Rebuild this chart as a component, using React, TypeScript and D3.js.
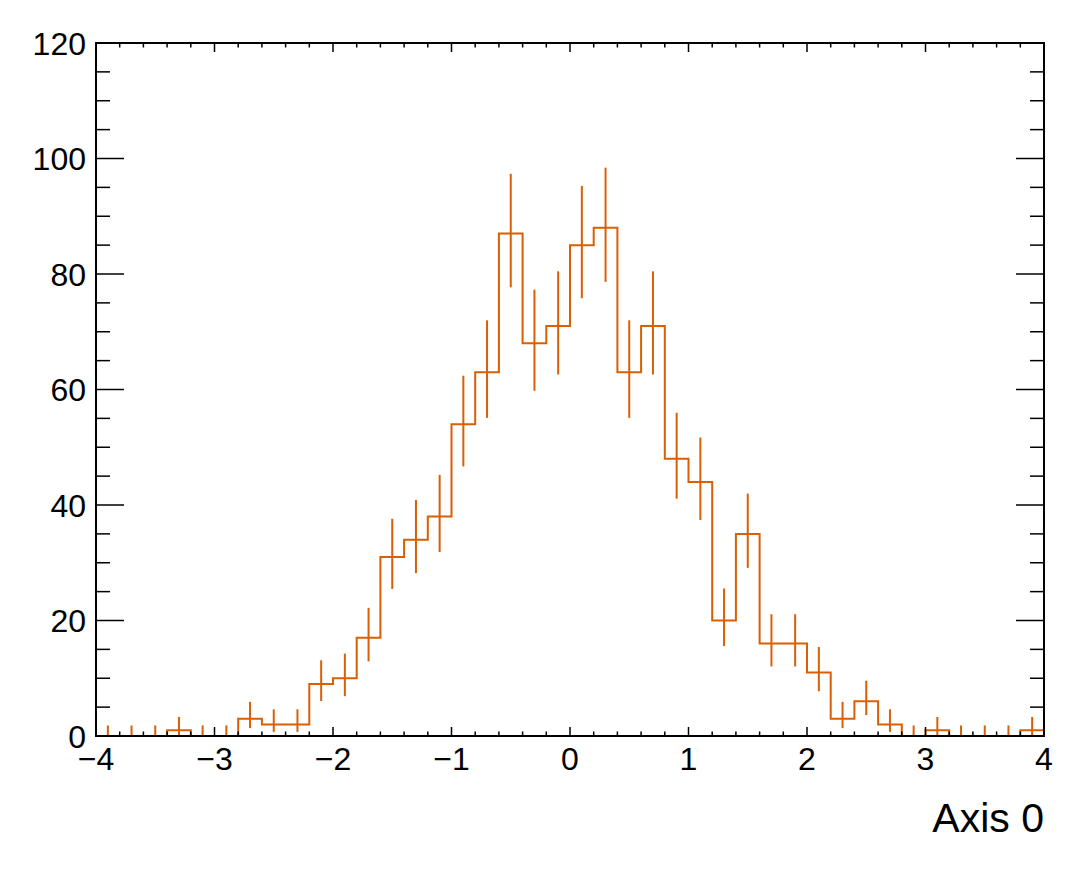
import React, { useEffect, useRef } from 'react';
import * as d3 from 'd3';

// bin lower edges, width 0.2, from -4 to 4
const binEdges: number[] = d3.range(40).map(i => -4 + i * 0.2);
const counts: number[] = [
  0, 0, 0, 1, 0, 0, 3, 2, 2, 9,
  10, 17, 31, 34, 38, 54, 63, 87, 68, 71,
  85, 88, 63, 71, 48, 44, 20, 35, 16, 16,
  11, 3, 6, 2, 0, 1, 0, 0, 0, 1,
];
const xTicks: number[] = [-4, -3, -2, -1, 0, 1, 2, 3, 4];
const yTicks: number[] = [0, 20, 40, 60, 80, 100, 120];
const axisTitle = 'Axis 0';

// approximate Poisson (Garwood) 68% interval, as drawn by ROOT
const poissonLow = (n: number) => (n === 0 ? 0 : n * Math.pow(1 - 1 / (9 * n) - 1 / (3 * Math.sqrt(n)), 3));
const poissonHigh = (n: number) => (n + 1) * Math.pow(1 - 1 / (9 * (n + 1)) + 1 / (3 * Math.sqrt(n + 1)), 3);

const App: React.FC = () => {
  const svgRef = useRef<SVGSVGElement>(null);

  useEffect(() => {
    if (!svgRef.current) return;
    const svg = d3.select(svgRef.current);
    svg.selectAll('*').remove();

    const width = 1084;
    const height = 871;
    const margin = { top: 43, right: 40, bottom: 135, left: 96 };
    const color = '#d95f02';
    const font = '"Liberation Sans", Arial, Helvetica, sans-serif';

    const x = d3.scaleLinear().domain([-4, 4]).range([margin.left, width - margin.right]);
    const y = d3.scaleLinear().domain([0, 120]).range([height - margin.bottom, margin.top]);

    // histogram outline
    const pts: [number, number][] = [[-4, 0]];
    binEdges.forEach((e, i) => pts.push([e, counts[i]]));
    pts.push([4, counts[counts.length - 1]]);
    pts.push([4, 0]);
    const line = d3.line<[number, number]>()
      .x(d => x(d[0]))
      .y(d => y(d[1]))
      .curve(d3.curveStepAfter);
    svg.append('path')
      .attr('d', line(pts) as string)
      .attr('fill', 'none')
      .attr('stroke', color)
      .attr('stroke-width', 2);

    // error bars
    svg.selectAll('line.err')
      .data(binEdges.map((e, i) => ({ c: e + 0.1, n: counts[i] })))
      .enter()
      .append('line')
      .attr('class', 'err')
      .attr('x1', d => x(d.c))
      .attr('x2', d => x(d.c))
      .attr('y1', d => y(poissonLow(d.n)))
      .attr('y2', d => y(poissonHigh(d.n)))
      .attr('stroke', color)
      .attr('stroke-width', 2);

    const y0 = y(0);
    const y1 = y(120);
    const x0 = x(-4);
    const x1 = x(4);

    // ticks on all four sides
    const ticks = svg.append('g').attr('stroke', '#000').attr('stroke-width', 1.5);
    d3.range(0, 41).forEach(i => {
      const v = -4 + i * 0.2;
      const len = i % 5 === 0 ? 9 : 4.5;
      ticks.append('line').attr('x1', x(v)).attr('x2', x(v)).attr('y1', y0).attr('y2', y0 - len);
      ticks.append('line').attr('x1', x(v)).attr('x2', x(v)).attr('y1', y1).attr('y2', y1 + len);
    });
    d3.range(0, 121, 5).forEach(v => {
      const len = v % 20 === 0 ? 28 : 14;
      ticks.append('line').attr('x1', x0).attr('x2', x0 + len).attr('y1', y(v)).attr('y2', y(v));
      ticks.append('line').attr('x1', x1).attr('x2', x1 - len).attr('y1', y(v)).attr('y2', y(v));
    });

    // frame
    svg.append('rect')
      .attr('x', x0)
      .attr('y', y1)
      .attr('width', x1 - x0)
      .attr('height', y0 - y1)
      .attr('fill', 'none')
      .attr('stroke', '#000')
      .attr('stroke-width', 2);

    // tick labels
    const fmt = (v: number) => (v < 0 ? '\u2212' + Math.abs(v) : String(v));
    svg.selectAll('text.xt')
      .data(xTicks)
      .enter()
      .append('text')
      .attr('class', 'xt')
      .attr('x', d => x(d))
      .attr('y', 770)
      .attr('text-anchor', 'middle')
      .style('font-family', font)
      .style('font-size', '32px')
      .text(d => fmt(d));

    svg.selectAll('text.yt')
      .data(yTicks)
      .enter()
      .append('text')
      .attr('class', 'yt')
      .attr('x', x0 - 10)
      .attr('y', d => y(d) + 11.5)
      .attr('text-anchor', 'end')
      .style('font-family', font)
      .style('font-size', '32px')
      .text(d => String(d));

    svg.append('text')
      .attr('x', x1)
      .attr('y', 832)
      .attr('text-anchor', 'end')
      .style('font-family', font)
      .style('font-size', '41px')
      .text(axisTitle);
  }, []);

  return (
    <svg
      ref={svgRef}
      width={1084}
      height={871}
      style={{ position: 'absolute', left: 0, top: 0, background: '#fff' }}
    />
  );
};

export default App;
